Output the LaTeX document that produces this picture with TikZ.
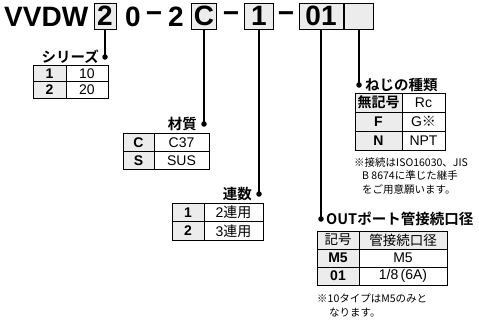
\documentclass[tikz,border=0pt]{standalone}
\usepackage{fontspec}
\setmainfont{Liberation Sans}
\newfontfamily\jp{Noto Sans CJK JP}[BoldFont={Noto Sans CJK JP Bold}]
\usetikzlibrary{positioning}

\tikzset{
  partno/.style={font=\fontsize{28}{28}\selectfont\bfseries,inner sep=0pt},
  partbox/.style={draw,line width=1pt,fill=gray!15,minimum width=#1,minimum height=26pt,
    inner sep=0pt,font=\fontsize{28}{28}\selectfont\bfseries},
  dot/.style={circle,fill,inner sep=0pt,minimum size=5.5pt},
  tag/.style={font=\jp\fontsize{14.5}{14.5}\selectfont\bfseries,inner sep=0pt},
  keycell/.style={draw,line width=0.8pt,fill=gray!15,inner sep=0pt,font=\fontsize{14}{14}\selectfont\bfseries},
  valcell/.style={draw,line width=0.8pt,fill=white,inner sep=0pt,font=\fontsize{14}{14}\selectfont},
  note/.style={font=\jp\fontsize{10.5}{10.5}\selectfont,inner sep=0pt,anchor=base west}
}

\begin{document}
\begin{tikzpicture}[x=1pt,y=-1pt]
\useasboundingbox (0,0) rectangle (479,324);
% part number
\node[partno,anchor=base west] (vvdw) at (4,27) {VVDW};
\node[partbox=22pt] (bs) at (105,16) {2};
\node[partno,anchor=base west] (z) at (125,27) {0};
\node[partno] (m1) at (154,17) {−};
\node[partno,anchor=base west] (two) at (168,27) {2};
\node[partbox=25pt] (bm) at (204,16) {C};
\node[partno] (m2) at (231,17) {−};
\node[partbox=29pt] (bc) at (259,16) {1};
\node[partno] (m3) at (286,17) {−};
\node[partbox=44pt] (bo) at (321,16) {01};
\node[partbox=29pt] (bt) at (359,16) {};
% leaders
\node[dot] (ds) at (105,57) {};
\node[dot] (dm) at (204,124) {};
\node[dot] (dc) at (259,194) {};
\node[dot] (do) at (321,219) {};
\node[dot] (dt) at (359,85) {};
\foreach \b/\d in {bs/ds, bm/dm, bc/dc, bo/do, bt/dt}
  \draw[line width=1.2pt] (\b.south) -- (\d.center);
\node[tag,anchor=east] (ls) at (99,57) {シリーズ};
\node[tag,anchor=east] (lm) at (197,124) {材質};
\node[tag,anchor=east] (lc) at (252,194) {連数};
\node[tag,anchor=west] (lo) at (326,219) {OUTポート管接続口径};
\node[tag,anchor=west] (lt) at (365,85) {ねじの種類};
% series
\foreach \k/\v/\y [count=\i] in {1/10/73.5, 2/20/90}{
  \node[keycell,minimum width=33pt,minimum height=16.5pt] (sk\i) at (49.5,\y) {\k};
  \node[valcell,minimum width=42pt,minimum height=16.5pt] (sv\i) at (87,\y) {\v};
}
% material
\foreach \k/\v/\y [count=\i] in {C/C37/142.5, S/SUS/160.5}{
  \node[keycell,minimum width=31pt,minimum height=18pt] (mk\i) at (138.5,\y) {\k};
  \node[valcell,minimum width=55pt,minimum height=18pt] (mv\i) at (181.5,\y) {\v};
}
% count
\foreach \k/\v/\y [count=\i] in {1/2/212.5, 2/3/231}{
  \node[keycell,minimum width=32pt,minimum height=18.5pt] (ck\i) at (188,\y) {\k};
  \node[valcell,minimum width=59pt,minimum height=18.5pt] (cv\i) at (233.5,\y) {\v{\jp 連用}};
}
% thread
\foreach \k/\v/\y [count=\i] in {{\jp 無記号}/Rc/102.5, F/G{\jp ※}/121.5, N/NPT/140.5}{
  \node[keycell,minimum width=47pt,minimum height=19pt] (tk\i) at (378.5,\y) {\k};
  \node[valcell,minimum width=43pt,minimum height=19pt] (tv\i) at (423.5,\y) {\v};
}
\node[note] (tn1) at (354,166) {※接続はISO16030、JIS};
\node[note] (tn2) at (362,179.5) {B 8674に準じた継手};
\node[note] (tn3) at (362,193) {をご用意願います。};
% out port
\node[keycell,font=\jp\fontsize{13.5}{13.5}\selectfont,minimum width=42pt,minimum height=18pt] (ok0) at (338,240) {記号};
\node[keycell,font=\jp\fontsize{13.5}{13.5}\selectfont,minimum width=88pt,minimum height=18pt] (ov0) at (403,240) {管接続口径};
\foreach \k/\v/\y [count=\i] in {M5/M5/258, 01/{1/8\,(6A)}/276}{
  \node[keycell,minimum width=42pt,minimum height=18pt] (ok\i) at (338,\y) {\k};
  \node[valcell,minimum width=88pt,minimum height=18pt] (ov\i) at (403,\y) {\v};
}
\node[note] (on1) at (317,302) {※10タイプはM5のみと};
\node[note] (on2) at (329,316) {なります。};
\end{tikzpicture}
\end{document}
